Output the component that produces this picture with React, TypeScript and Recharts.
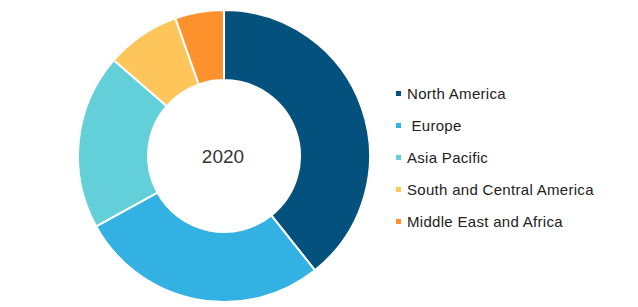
import { PieChart, Pie, Cell } from 'recharts';

const regions = ['North America', ' Europe', 'Asia Pacific', 'South and Central America', 'Middle East and Africa'];
const shares = [39.3, 27.7, 19.4, 8.2, 5.4];
const colors = ['#05517e', '#33b1e2', '#63cfd8', '#fec55b', '#fd922d'];
const centerTitle = '2020';

const data = regions.map((name, i) => ({ name, value: shares[i] }));

const font = '"Liberation Sans", Arial, sans-serif';

const App = () => {
  return (
    <div style={{ position: 'absolute', left: 0, top: 0, width: 638, height: 307, background: '#fff' }}>
      {/* cx/cy are measured from inside the default 5px chart margin */}
      <PieChart width={638} height={307}>
        <Pie
          data={data}
          dataKey="value"
          nameKey="name"
          cx={219}
          cy={151}
          innerRadius={76}
          outerRadius={146}
          startAngle={90}
          endAngle={-270}
          stroke="#fff"
          strokeWidth={2}
          isAnimationActive={false}
        >
          {data.map((d, i) => (
            <Cell key={d.name} fill={colors[i]} />
          ))}
        </Pie>
      </PieChart>
      {/* year in the hole of the donut */}
      <div
        style={{
          position: 'absolute', left: 173, top: 145, width: 100, textAlign: 'center',
          fontFamily: font, fontSize: 19, lineHeight: '24px', color: '#333',
        }}
      >
        {centerTitle}
      </div>
      <div style={{ position: 'absolute', left: 396, top: 77, fontFamily: font, fontSize: 15, color: '#222', letterSpacing: 0.3 }}>
        {regions.map((name, i) => (
          <div key={name} style={{ display: 'flex', alignItems: 'center', height: 32.2, whiteSpace: 'pre' }}>
            <span style={{ width: 5, height: 5, background: colors[i], marginRight: 6, display: 'inline-block' }} />
            <span>{name}</span>
          </div>
        ))}
      </div>
    </div>
  );
};

export default App;
